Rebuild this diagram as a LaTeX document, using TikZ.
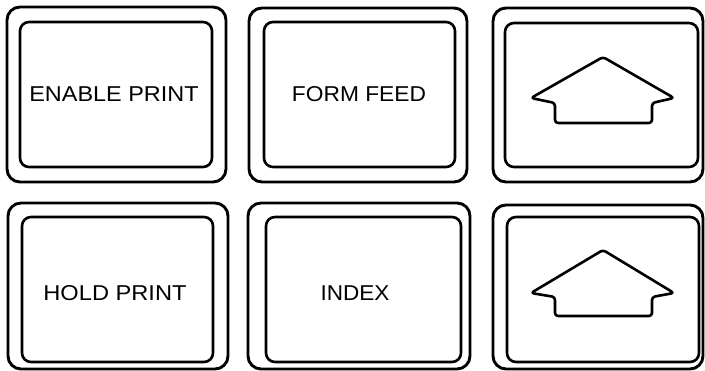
\documentclass[tikz,border=0pt]{standalone}
\usepackage{fontspec}
\setmainfont{Liberation Sans}
\begin{document}
\begin{tikzpicture}[x=1pt,y=-1pt,
  outerkey/.style={line width=2.9pt,rounded corners=13pt},
  innerkey/.style={line width=2.6pt,rounded corners=9pt},
  arrowsym/.style={line width=2.6pt,rounded corners=3pt,line join=round},
  keylabel/.style={font=\fontsize{21.5}{23}\selectfont,inner sep=0pt}]
\useasboundingbox (0,0) rectangle (705,371);
% top row
\draw[outerkey] (7,7) rectangle (226,182);
\draw[innerkey] (20,22) rectangle (212,167);
\node[keylabel] (ep) at (114,94) {\scalebox{1.09}[1]{ENABLE PRINT}};
\draw[outerkey] (249,8) rectangle (467,182);
\draw[innerkey] (264,22) rectangle (455,167);
\node[keylabel] (ff) at (359,94) {\scalebox{1.06}[1]{FORM FEED}};
\draw[outerkey] (493,8) rectangle (703,182);
\draw[innerkey] (505,23) rectangle (698,167);
\draw[arrowsym] (603,57) -- (674,98) -- (652,103) -- (652,123) -- (555,123) -- (555,103) -- (531,98) -- cycle;
% bottom row
\draw[outerkey] (8,203) rectangle (228,369);
\draw[innerkey] (22,217) rectangle (213,362);
\node[keylabel] (hp) at (115,293) {\scalebox{1.10}[1]{HOLD PRINT}};
\draw[outerkey] (248,203) rectangle (470,369);
\draw[innerkey] (266,217) rectangle (461,362);
\node[keylabel] (ix) at (355,293) {\scalebox{1.05}[1]{INDEX}};
\draw[outerkey] (493,205) rectangle (703,369);
\draw[innerkey] (507,217) rectangle (699,362);
\draw[arrowsym] (603,250) -- (674,293) -- (652,297) -- (652,316) -- (555,316) -- (555,297) -- (531,293) -- cycle;
\end{tikzpicture}
\end{document}
